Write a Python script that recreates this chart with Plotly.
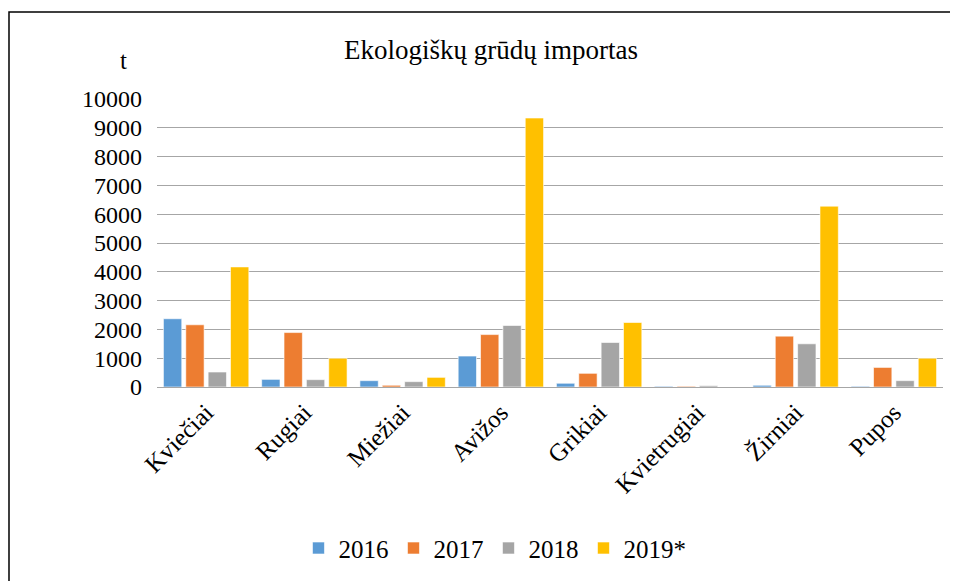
import plotly.graph_objects as go

categories = ["Kviečiai", "Rugiai", "Miežiai", "Avižos", "Grikiai", "Kvietrugiai", "Žirniai", "Pupos"]
v2016 = [2370, 265, 220, 1075, 130, 25, 60, 25]
v2017 = [2160, 1890, 60, 1820, 475, 25, 1765, 680]
v2018 = [520, 255, 185, 2135, 1545, 45, 1500, 220]
v2019 = [4170, 1000, 335, 9340, 2240, 0, 6280, 1000]
series_names = ["2016", "2017", "2018", "2019*"]
colors = ["#5b9bd5", "#ed7d31", "#a5a5a5", "#ffc000"]

font = "Liberation Serif"

fig = go.Figure()
for name, vals, col in zip(series_names, [v2016, v2017, v2018, v2019], colors):
    fig.add_trace(go.Bar(x=categories, y=vals, name=name,
                         marker=dict(color=col, line=dict(color="rgba(255,255,255,0.6)", width=1))))

fig.update_layout(
    width=958, height=581,
    margin=dict(l=149, r=23, t=91, b=202),
    paper_bgcolor="white", plot_bgcolor="white",
    barmode="group", bargap=0.09, bargroupgap=0.18,
    font=dict(family=font, color="black", size=20),
    title=dict(text="Ekologiškų grūdų importas", x=(483 / 958), xanchor="center",
               y=1 - 42 / 581, yanchor="middle", font=dict(family=font, size=27, color="black")),
    xaxis=dict(tickangle=-45, tickfont=dict(family=font, size=25, color="black"),
               showgrid=False, showline=True, linecolor="#a6a6a6", linewidth=1, ticks=""),
    yaxis=dict(range=[0, 10000], dtick=1000, tickformat="d", showgrid=True, gridcolor="#a6a6a6",
               gridwidth=1, zeroline=False, showline=False, ticks="", ticklen=0,
               ticklabelstandoff=14,
               tickfont=dict(family=font, size=24, color="black")),
    legend=dict(orientation="h", x=0.43, xanchor="center", y=-0.56, yanchor="middle",
                font=dict(family=font, size=25, color="black"), itemwidth=30, traceorder="normal"),
    annotations=[dict(text="t", xref="paper", yref="paper", x=-0.042, y=1.135,
                      xanchor="center", yanchor="middle", showarrow=False,
                      font=dict(family=font, size=25, color="black"))],
    shapes=[dict(type="rect", xref="paper", yref="paper", x0=-0.1883, x1=1.03, y0=-0.7, y1=1.302,
                 line=dict(color="black", width=1.5), fillcolor="rgba(0,0,0,0)", layer="below")],
)

fig.write_html("out.html")
